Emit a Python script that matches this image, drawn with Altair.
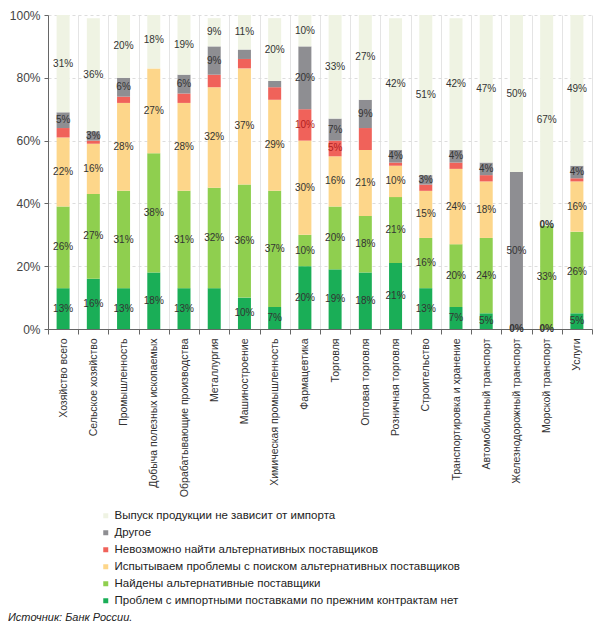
import altair as alt
import pandas as pd

categories = [
    "Хозяйство всего", "Сельское хозяйство", "Промышленность",
    "Добыча полезных ископаемых", "Обрабатывающие производства", "Металлургия",
    "Машиностроение", "Химическая промышленность", "Фармацевтика", "Торговля",
    "Оптовая торговля", "Розничная торговля", "Строительство",
    "Транспортировка и хранение", "Автомобильный транспорт",
    "Железнодорожный транспорт", "Морской транспорт", "Услуги",
]

# series, bottom of the stack first
s_no_problem = [13, 16, 13, 18, 13, 13, 10, 7, 20, 19, 18, 21, 13, 7, 5, 0, 0, 5]
s_found = [26, 27, 31, 38, 31, 32, 36, 37, 10, 20, 18, 21, 16, 20, 24, 0, 33, 26]
s_trouble = [22, 16, 28, 27, 28, 32, 37, 29, 30, 16, 21, 10, 15, 24, 18, 0, 0, 16]
s_cannot = [3, 1, 2, 0, 3, 4, 3, 4, 10, 5, 7, 1, 2, 2, 2, 0, 0, 1]
s_other = [5, 3, 6, 0, 6, 9, 3, 2, 20, 7, 9, 4, 3, 4, 4, 50, 0, 4]
s_indep = [31, 36, 20, 18, 19, 9, 11, 20, 10, 33, 27, 42, 51, 42, 47, 50, 67, 49]

# which value labels are printed (1 = shown)
l_no_problem = [1, 1, 1, 1, 1, 0, 1, 1, 1, 1, 1, 1, 1, 1, 1, 1, 1, 1]
l_found = [1, 1, 1, 1, 1, 1, 1, 1, 1, 1, 1, 1, 1, 1, 1, 0, 1, 1]
l_trouble = [1, 1, 1, 1, 1, 1, 1, 1, 1, 1, 1, 1, 1, 1, 1, 0, 1, 1]
l_cannot = [0, 0, 0, 0, 0, 0, 0, 0, 1, 1, 0, 0, 0, 0, 0, 0, 0, 0]
l_other = [1, 1, 1, 0, 1, 1, 0, 0, 1, 1, 1, 1, 1, 1, 1, 1, 0, 1]
l_indep = [1] * 18

series_names = [
    "Проблем с импортными поставками по прежним контрактам нет",
    "Найдены альтернативные поставщики",
    "Испытываем проблемы с поиском альтернативных поставщиков",
    "Невозможно найти альтернативных поставщиков",
    "Другое",
    "Выпуск продукции не зависит от импорта",
]
series_colors = ["#1aae57", "#8fcf4f", "#fdd68a", "#f0625a", "#8e8e92", "#eff3e3"]
label_colors = ["#333333", "#333333", "#333333", "#b01e1e", "#333333", "#333333"]

all_vals = [s_no_problem, s_found, s_trouble, s_cannot, s_other, s_indep]
all_show = [l_no_problem, l_found, l_trouble, l_cannot, l_other, l_indep]

rows = []
for si, (name, vals, shows) in enumerate(zip(series_names, all_vals, all_show)):
    for ci, cat in enumerate(categories):
        rows.append({
            "cat": cat, "series": name, "value": vals[ci], "idx": si,
            "show": shows[ci], "lab": f"{vals[ci]}%", "lcol": label_colors[si],
        })
df = pd.DataFrame(rows)

FONT = "Liberation Sans"

x_enc = alt.X(
    "cat:N", sort=categories, title=None,
    scale=alt.Scale(paddingInner=0, paddingOuter=0),
    axis=alt.Axis(
        labelAngle=-90, labelFontSize=10.5, labelColor="#333333", labelFont=FONT,
        tickBand="extent", grid=True, gridColor="#e4e4e4", domainColor="#666666",
        tickColor="#666666", tickSize=5, labelPadding=4, labelLimit=300,
    ),
)

base = alt.Chart(df)

bars = base.mark_bar(size=13).encode(
    x=x_enc,
    y=alt.Y(
        "value:Q", stack="zero", title=None,
        scale=alt.Scale(domain=[0, 100], clamp=True, nice=False),
        axis=alt.Axis(
            values=list(range(0, 101, 10)), labelExpr="datum.value + '%'",
            labelFontSize=12, labelColor="#444444", labelFont=FONT,
            gridColor="#dddddd", gridDash=[3, 3], domainColor="#666666",
            tickColor="#666666", tickSize=4, labelPadding=4,
        ),
    ),
    color=alt.Color(
        "series:N", scale=alt.Scale(domain=series_names[::-1], range=series_colors[::-1]),
        legend=alt.Legend(
            title=None, orient="none", legendX=52, legendY=495, symbolType="square",
            symbolSize=25, labelFontSize=11.5, labelFont=FONT, labelColor="#222222",
            rowPadding=4, labelLimit=500, symbolStrokeWidth=0, labelOffset=3,
        ),
    ),
    order=alt.Order("idx:Q", sort="ascending"),
)

stacked = base.transform_stack(
    stack="value", groupby=["cat"], as_=["y0", "y1"],
    sort=[alt.SortField("idx", order="ascending")],
).transform_calculate(
    mid="(datum.y0 + datum.y1) / 2"
).transform_filter("datum.show == 1")

label_enc = dict(
    x=alt.X("cat:N", sort=categories),
    y=alt.Y("mid:Q"),
    text="lab:N",
    color=alt.Color("lcol:N", scale=None),
)

labels = stacked.transform_filter("datum.value > 0").mark_text(
    fontSize=10, font=FONT, baseline="middle"
).encode(**label_enc)

zero_labels = stacked.transform_filter("datum.value == 0").mark_text(
    fontSize=10, font=FONT, baseline="middle", fontWeight="bold"
).encode(**label_enc)

source = alt.Chart(pd.DataFrame({"t": ["Источник: Банк России."]})).mark_text(
    align="left", baseline="middle", fontSize=11, fontStyle="italic", font=FONT,
    color="#222222",
).encode(x=alt.value(-40), y=alt.value(603), text="t:N")

chart = alt.layer(bars, labels, zero_labels, source).properties(
    width=544, height=314,
    autosize=alt.AutoSizeParams(type="none"),
    padding={"left": 40, "top": 7, "right": 8, "bottom": 300},
).configure_view(stroke=None)

chart.save("out.html", embed_options={"renderer": "svg", "actions": False})
